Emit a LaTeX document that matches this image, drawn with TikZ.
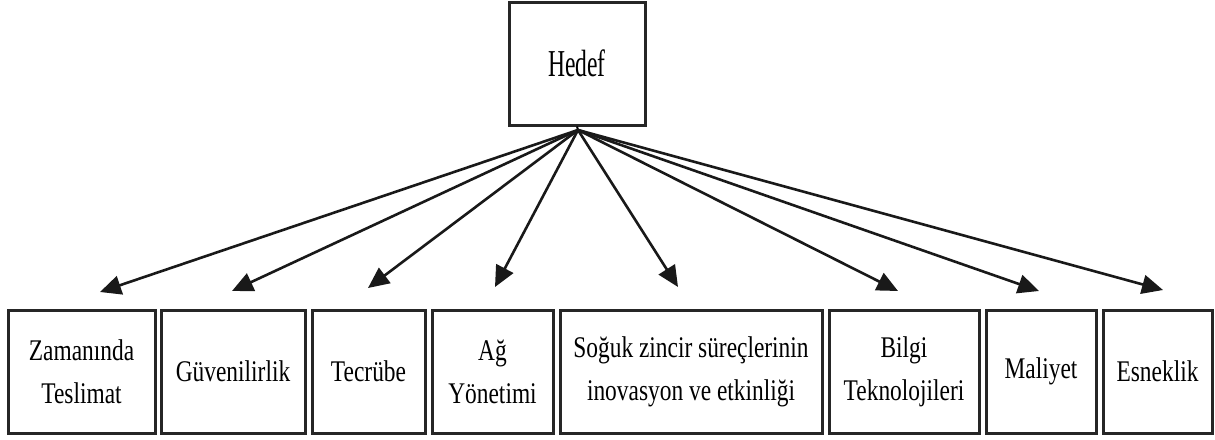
\documentclass[tikz,border=0pt]{standalone}
\usepackage{fontspec}
\setmainfont{Liberation Serif}
\newfontfamily\bfam[FakeStretch=0.78]{Liberation Serif}
\newfontfamily\hfam[FakeStretch=0.62]{Liberation Serif}
\usetikzlibrary{arrows.meta}
\begin{document}
\begin{tikzpicture}[x=1pt,y=-1pt,
  box/.style={draw=black!85,line width=3pt,inner sep=0pt,align=center,
    font=\bfam\fontsize{30}{43}\selectfont},
  top/.style={draw=black!85,line width=3pt,inner sep=0pt,
    font=\hfam\fontsize{38}{44}\selectfont},
  arr/.style={draw=black!90,line width=2.6pt,-{Triangle[length=21pt,width=19pt]}}]
\useasboundingbox[fill=white] (0,0) rectangle (1215,439);
\node[top,minimum width=136pt,minimum height=123pt] (hedef) at (577,63.5) {Hedef};
\coordinate (src) at (578,130);
\node[box,minimum width=147pt,minimum height=123pt] (b1) at (81.5,371.5) {Zamanında\\Teslimat};
\node[box,minimum width=144pt,minimum height=123pt] (b2) at (233,371.5) {Güvenilirlik};
\node[box,minimum width=113pt,minimum height=123pt] (b3) at (368.5,371.5) {Tecrübe};
\node[box,minimum width=121pt,minimum height=123pt] (b4) at (492.5,371.5) {Ağ\\Yönetimi};
\node[box,minimum width=262pt,minimum height=123pt] (b5) at (691,371.5) {Soğuk zincir süreçlerinin\\inovasyon ve etkinliği};
\node[box,minimum width=150pt,minimum height=123pt] (b6) at (904,371.5) {Bilgi\\Teknolojileri};
\node[box,minimum width=110pt,minimum height=123pt] (b7) at (1041,371.5) {Maliyet};
\node[box,minimum width=109pt,minimum height=123pt] (b8) at (1157.5,371.5) {Esneklik};
\draw[line width=2pt] (hedef.south) -- (src);
\coordinate (t1) at (100,292);
\coordinate (t2) at (232,291);
\coordinate (t3) at (368,288);
\coordinate (t4) at (495,287);
\coordinate (t5) at (678,287);
\coordinate (t6) at (898,291);
\coordinate (t7) at (1039,291);
\coordinate (t8) at (1163,290);
\foreach \i in {1,...,8} \draw[arr] (src) -- (t\i);
\end{tikzpicture}
\end{document}
